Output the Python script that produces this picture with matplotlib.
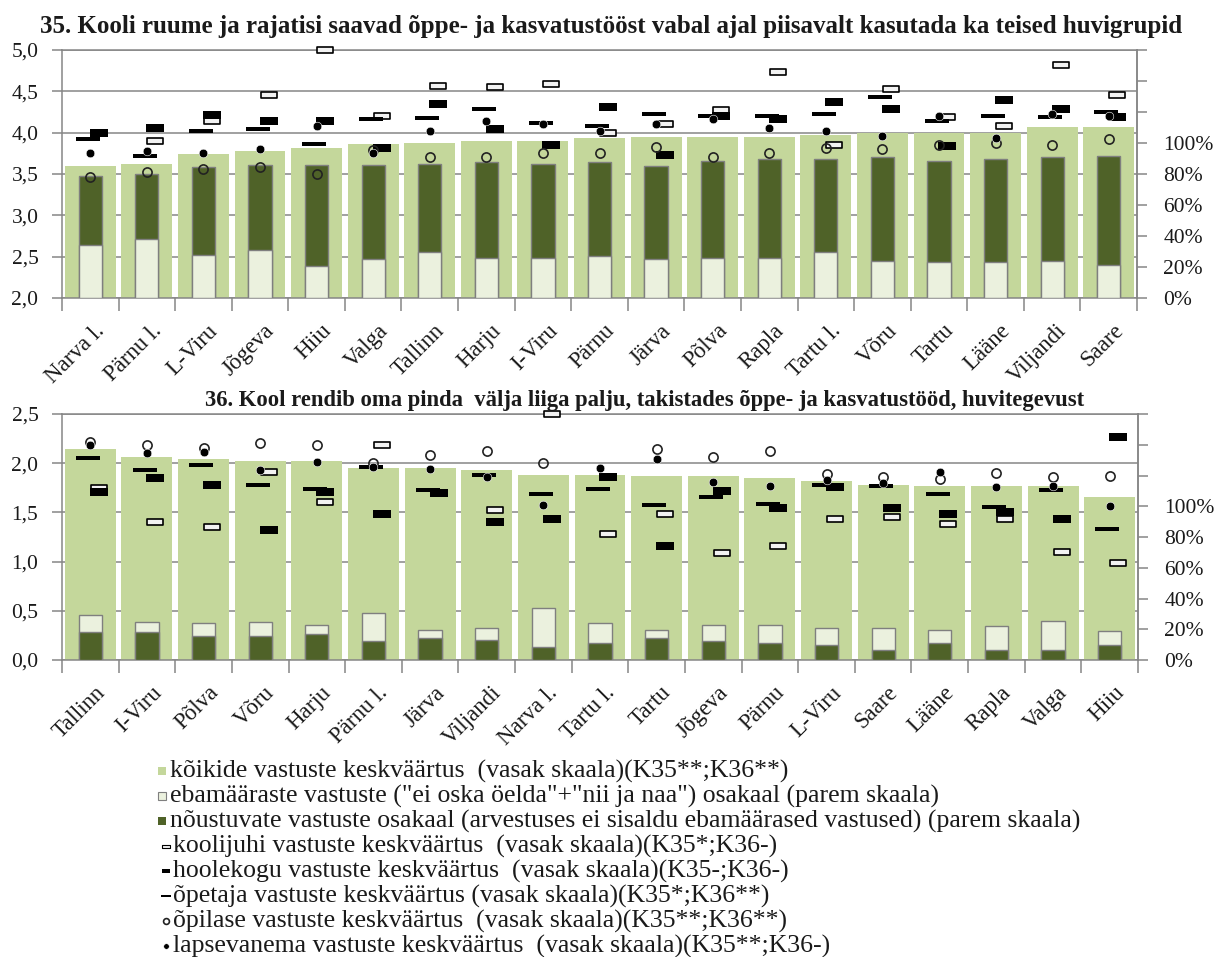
import numpy as np
import matplotlib
matplotlib.use("Agg")
import matplotlib.pyplot as plt
from matplotlib.path import Path
from matplotlib.lines import Line2D
from matplotlib.patches import Rectangle
from matplotlib.ticker import FixedLocator, FuncFormatter
from matplotlib.transforms import ScaledTranslation

plt.rcParams['font.family'] = ['Liberation Serif', 'DejaVu Serif']

nan = np.nan

# ---- K35: school premises used by other interest groups ----
k35_regions = ["Narva l.", "Pärnu l.", "L-Viru", "Jõgeva", "Hiiu", "Valga", "Tallinn",
               "Harju", "I-Viru", "Pärnu", "Järva", "Põlva", "Rapla", "Tartu l.",
               "Võru", "Tartu", "Lääne", "Viljandi", "Saare"]
k35_all = [3.60, 3.62, 3.74, 3.78, 3.82, 3.86, 3.88, 3.90, 3.90, 3.93, 3.95, 3.95,
           3.95, 3.97, 3.99, 3.99, 3.99, 4.07, 4.07]
k35_unsure = [0.34, 0.38, 0.28, 0.31, 0.205, 0.25, 0.294, 0.26, 0.26, 0.27, 0.25,
              0.26, 0.26, 0.294, 0.24, 0.23, 0.23, 0.24, 0.216]
k35_agree = [0.79, 0.80, 0.844, 0.855, 0.855, 0.855, 0.864, 0.875, 0.864, 0.875,
             0.853, 0.886, 0.896, 0.896, 0.907, 0.886, 0.896, 0.907, 0.918]
k35_head = [nan, 3.90, 4.14, 4.45, 5.00, 4.20, 4.57, 4.55, 4.59, 4.00, 4.10, 4.27,
            4.73, 3.855, 4.53, 4.185, 4.08, 4.82, 4.45]
k35_board = [4.00, 4.06, 4.21, 4.14, 4.14, 3.81, 4.35, 4.04, 3.855, 4.31, 3.73, 4.20,
             4.165, 4.365, 4.285, 3.84, 4.39, 4.285, 4.185]
k35_teacher = [3.92, 3.72, 4.02, 4.04, 3.86, 4.17, 4.18, 4.29, 4.12, 4.08, 4.225,
               4.205, 4.205, 4.225, 4.43, 4.145, 4.205, 4.185, 4.245]
k35_student = [3.46, 3.52, 3.56, 3.58, 3.50, 3.79, 3.70, 3.70, 3.76, 3.76, 3.83,
               3.70, 3.76, 3.82, 3.805, 3.85, 3.87, 3.845, 3.925]
k35_parent = [3.75, 3.78, 3.75, 3.80, 4.08, 3.75, 4.02, 4.14, 4.10, 4.02, 4.10,
              4.165, 4.06, 4.02, 3.96, 4.20, 3.94, 4.225, 4.20]

# ---- K36: school rents out too much space ----
k36_regions = ["Tallinn", "I-Viru", "Põlva", "Võru", "Harju", "Pärnu l.", "Järva",
               "Viljandi", "Narva l.", "Tartu l.", "Tartu", "Jõgeva", "Pärnu",
               "L-Viru", "Saare", "Lääne", "Rapla", "Valga", "Hiiu"]
k36_all = [2.14, 2.06, 2.04, 2.02, 2.02, 1.95, 1.95, 1.935, 1.885, 1.885, 1.87, 1.87,
           1.85, 1.815, 1.78, 1.77, 1.77, 1.77, 1.66]
k36_unsure = [0.295, 0.25, 0.24, 0.25, 0.23, 0.306, 0.197, 0.207, 0.338, 0.24,
              0.197, 0.229, 0.229, 0.207, 0.207, 0.197, 0.218, 0.251, 0.186]
k36_agree = [0.179, 0.179, 0.157, 0.157, 0.168, 0.124, 0.142, 0.133, 0.087, 0.109,
             0.142, 0.124, 0.109, 0.098, 0.068, 0.109, 0.068, 0.068, 0.098]
k36_head = [1.75, 1.40, 1.35, 1.91, 1.61, 2.19, nan, 1.52, 2.50, 1.28, 1.485, 1.09,
            1.16, 1.435, 1.45, 1.385, 1.43, 1.095, 0.99]
k36_board = [1.71, 1.845, 1.78, 1.32, 1.71, 1.485, 1.70, 1.40, 1.43, 1.86, 1.16,
             1.72, 1.54, 1.76, 1.54, 1.485, 1.50, 1.435, 2.27]
k36_teacher = [2.05, 1.93, 1.98, 1.78, 1.74, 1.965, 1.73, 1.88, 1.69, 1.74, 1.58,
               1.655, 1.59, 1.78, 1.765, 1.69, 1.553, 1.725, 1.335]
k36_student = [2.22, 2.18, 2.15, 2.21, 2.18, 2.00, 2.08, 2.125, 2.00, nan, 2.14,
               2.06, 2.125, 1.895, 1.86, 1.84, 1.905, 1.86, 1.87]
k36_parent = [2.19, 2.10, 2.115, 1.93, 2.01, 1.96, 1.94, 1.86, 1.58, 1.95, 2.04,
              1.81, 1.77, 1.83, 1.80, 1.915, 1.755, 1.77, 1.57]

pct_ticks = [0, 0.2, 0.4, 0.6, 0.8, 1.0, 1.2, 1.4, 1.6]

title35 = ("35. Kooli ruume ja rajatisi saavad õppe- ja kasvatustööst vabal ajal "
           "piisavalt kasutada ka teised huvigrupid")
title36 = ("36. Kool rendib oma pinda  välja liiga palju, takistades õppe- ja "
           "kasvatustööd, huvitegevust")

legend_labels = [
    "kõikide vastuste keskväärtus  (vasak skaala)(K35**;K36**)",
    "ebamääraste vastuste (\"ei oska öelda\"+\"nii ja naa\") osakaal (parem skaala)",
    "nõustuvate vastuste osakaal (arvestuses ei sisaldu ebamäärased vastused) (parem skaala)",
    "koolijuhi vastuste keskväärtus  (vasak skaala)(K35*;K36-)",
    "hoolekogu vastuste keskväärtus  (vasak skaala)(K35-;K36-)",
    "õpetaja vastuste keskväärtus (vasak skaala)(K35*;K36**)",
    "õpilase vastuste keskväärtus  (vasak skaala)(K35**;K36**)",
    "lapsevanema vastuste keskväärtus  (vasak skaala)(K35**;K36-)",
]

# ---- styling ----
C_ALL = "#C4D79B"
C_UNSURE = "#EBF1DE"
C_AGREE = "#4F6228"
C_GRID = "#868686"
C_TEXT = "#1a1a1a"
FS = 15.5
FS_X = 16.5
FS_LEG = 18.5


def rect_path(ratio):
    v = [(-1, -ratio), (1, -ratio), (1, ratio), (-1, ratio), (-1, -ratio)]
    c = [Path.MOVETO, Path.LINETO, Path.LINETO, Path.LINETO, Path.CLOSEPOLY]
    return Path(v, c)


M_TEACHER = rect_path(0.17)
M_BOARD = rect_path(0.40)
M_HEAD = rect_path(0.36)

marker_styles = {
    "head": dict(marker=M_HEAD, ms=11.8, mfc="#F2F2F2", mec="black", mew=1.2),
    "board": dict(marker=M_BOARD, ms=13.0, mfc="black", mec="black", mew=0),
    "teacher": dict(marker=M_TEACHER, ms=17.3, mfc="black", mec="black", mew=0),
    "student": dict(marker="o", ms=6.6, mfc="none", mec="#222222", mew=1.2),
    "parent": dict(marker="o", ms=6.2, mfc="black", mec="white", mew=0.4),
}
offsets = {"head": 0.15, "board": 0.15, "teacher": -0.04, "student": 0.0, "parent": 0.0}

W, H = 1216, 957
fig = plt.figure(figsize=(W / 100, H / 100), dpi=100)


def px_rect(x0, y0, x1, y1):
    return [x0 / W, 1 - y1 / H, (x1 - x0) / W, (y1 - y0) / H]


def draw_panel(rect, regions, all_mean, unsure, agree, head, board, teacher,
               student, parent, ylim, title, title_xy, title_fs):
    n = len(regions)
    x = np.arange(n)
    ax = fig.add_axes(rect)
    axr = ax.twinx()
    axm = ax.twinx()

    # wide background bars (left scale)
    ax.bar(x, np.array(all_mean) - ylim[0], bottom=ylim[0], width=0.9,
           color=C_ALL, edgecolor="none", zorder=2)
    ax.set_ylim(*ylim)
    ax.set_xlim(-0.5, n - 0.5)
    ax.yaxis.grid(True, color=C_GRID, lw=1.1, zorder=0)
    ax.set_axisbelow(True)
    yt = np.arange(ylim[0], ylim[1] + 0.01, 0.5)
    ax.set_yticks(yt)
    ax.yaxis.set_major_formatter(FuncFormatter(lambda v, p: f"{v:.1f}".replace(".", ",")))
    ax.tick_params(axis="y", direction="out", length=7, width=1.1, color=C_GRID,
                   labelsize=FS, labelcolor=C_TEXT, pad=10)
    ax.set_xticks(x)
    ax.set_xticklabels(regions, rotation=45, ha="right", va="top",
                       rotation_mode="anchor", fontsize=FS_X, color=C_TEXT)
    ax.tick_params(axis="x", which="major", length=0, pad=16)
    shift = ScaledTranslation(4 / 100, 0, fig.dpi_scale_trans)
    for lbl in ax.get_xticklabels():
        lbl.set_transform(lbl.get_transform() + shift)
    ax.xaxis.set_minor_locator(FixedLocator(np.arange(-0.5, n, 1.0)))
    ax.tick_params(axis="x", which="minor", direction="out", length=9, width=1.1,
                   color=C_GRID)
    for s in ax.spines.values():
        s.set_color(C_GRID)
        s.set_linewidth(1.1)

    # narrow share bars (right scale): the taller one sits behind
    u = np.array(unsure)
    a = np.array(agree)
    back_h = np.maximum(u, a)
    front_h = np.minimum(u, a)
    back_c = [C_AGREE if ai > ui else C_UNSURE for ui, ai in zip(u, a)]
    front_c = [C_UNSURE if ai > ui else C_AGREE for ui, ai in zip(u, a)]
    axr.bar(x, back_h, width=0.41, color=back_c, edgecolor="#7F7F7F", lw=1.0, zorder=2)
    axr.bar(x, front_h, width=0.41, color=front_c, edgecolor="#7F7F7F", lw=1.0, zorder=3)
    axr.set_ylim(0, 1.6)
    axr.set_yticks(pct_ticks)
    axr.set_yticklabels([f"{int(round(t * 100))}%" if t <= 1.0 else "" for t in pct_ticks])
    axr.tick_params(axis="y", direction="out", length=7, width=1.1, color=C_GRID,
                    labelsize=FS, labelcolor=C_TEXT, pad=12)
    for k, s in axr.spines.items():
        s.set_visible(k == "right")
        s.set_color(C_GRID)
        s.set_linewidth(1.1)

    # respondent group means (left scale), drawn on top
    axm.set_ylim(*ylim)
    axm.set_xlim(-0.5, n - 0.5)
    axm.axis("off")
    series = [("head", head), ("board", board), ("teacher", teacher),
              ("student", student), ("parent", parent)]
    for i, (key, vals) in enumerate(series):
        axm.plot(x + offsets[key], vals, ls="none", clip_on=False, zorder=5 + i,
                 **marker_styles[key])

    fig.text(title_xy[0] / W, 1 - title_xy[1] / H, title, ha="center", va="baseline",
             fontsize=title_fs, fontweight="bold", color=C_TEXT)
    return ax


draw_panel(px_rect(62, 50, 1137, 298), k35_regions, k35_all, k35_unsure, k35_agree,
           k35_head, k35_board, k35_teacher, k35_student, k35_parent, (2.0, 5.0),
           title35, (611, 33), 18.0)
draw_panel(px_rect(62, 414, 1138, 660), k36_regions, k36_all, k36_unsure, k36_agree,
           k36_head, k36_board, k36_teacher, k36_student, k36_parent, (0.0, 2.5),
           title36, (645, 406), 16.3)

# ---- legend ----
row_y0, row_step = 771, 25.0
text_x = 170
for k, label in enumerate(legend_labels):
    yc = row_y0 + row_step * k
    tx = text_x if k < 3 else text_x + 3
    fig.text(tx / W, 1 - yc / H, label, ha="left", va="center",
             fontsize=FS_LEG, color=C_TEXT)
    yf = 1 - yc / H
    if k < 3:
        fc = [C_ALL, C_UNSURE, C_AGREE][k]
        ec = "#7F7F7F" if k == 1 else "none"
        fig.add_artist(Rectangle(((text_x - 12) / W, yf - 4 / H), 8 / W, 8 / H,
                                 transform=fig.transFigure, facecolor=fc,
                                 edgecolor=ec, lw=0.8))
    else:
        key = ["head", "board", "teacher", "student", "parent"][k - 3]
        st = dict(marker_styles[key])
        st["ms"] = {"head": 6, "board": 5.5, "teacher": 7.5, "student": 4.2,
                    "parent": 4.0}[key]
        if key == "head":
            st["mew"] = 0.8
        fig.add_artist(Line2D([(text_x - 4) / W], [yf], transform=fig.transFigure,
                              ls="none", **st))

fig.savefig("out.png", dpi=100)
